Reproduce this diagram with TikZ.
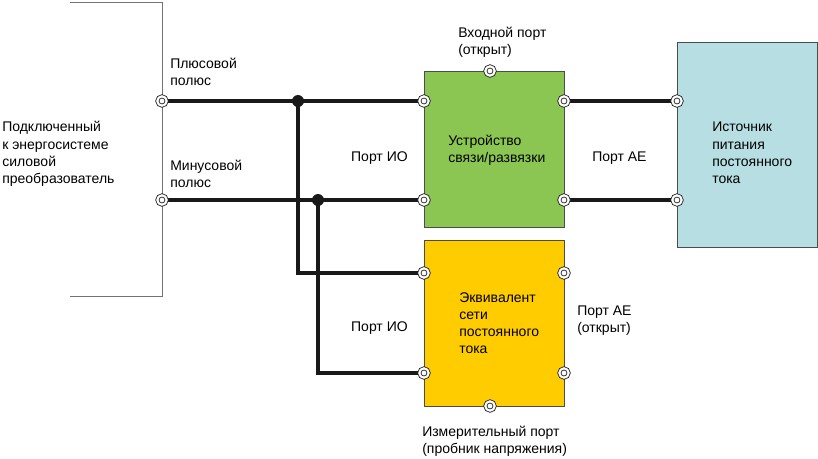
\documentclass[tikz,border=0pt]{standalone}
\usepackage{fontspec}
\setmainfont{Liberation Sans}
\usetikzlibrary{backgrounds}
\definecolor{devgreen}{RGB}{140,198,82}
\definecolor{netyellow}{RGB}{255,204,0}
\definecolor{srcblue}{RGB}{183,223,227}
\begin{document}
\begin{tikzpicture}[
  x=0.75pt, y=-0.75pt,
  box/.style={draw=black!70, line width=0.6pt, minimum width=105pt, inner sep=0pt},
  term/.style={circle, draw=black!85, double=white, double distance=1.6pt, line width=0.65pt, fill=white, minimum size=7pt, inner sep=0pt},
  junc/.style={circle, fill=black!90, minimum size=9pt, inner sep=0pt},
  wire/.style={line width=2.7pt, black!90},
  bracket/.style={line width=0.7pt, black!55},
  lbl/.style={align=left, anchor=west, inner sep=0pt, font=\fontsize{10.5}{12.9}\selectfont}
]
\useasboundingbox (0,0) rectangle (818,458);
% blocks
\node[box, fill=devgreen, minimum height=117pt] (dev) at (494,149) {};
\node[box, fill=netyellow, minimum height=124.5pt] (net) at (494,323) {};
\node[box, fill=srcblue, minimum height=153.75pt] (src) at (747,144.5) {};
% terminals
\node[term] (pp) at (162,101) {};
\node[term] (mp) at (162,200) {};
\node[term] (gi1) at (424,101) {};
\node[term] (gi2) at (424,200) {};
\node[term] (go1) at (564,101) {};
\node[term] (go2) at (564,200) {};
\node[term] (gtop) at (490,71) {};
\node[term] (yi1) at (424,273) {};
\node[term] (yi2) at (424,373) {};
\node[term] (yo1) at (564,273) {};
\node[term] (yo2) at (564,373) {};
\node[term] (ybot) at (490,406) {};
\node[term] (bi1) at (677,101) {};
\node[term] (bi2) at (677,200) {};
\node[junc] (jp) at (298,101) {};
\node[junc] (jm) at (318,200) {};
% wiring
\begin{scope}[on background layer]
  \draw[bracket] (70,2) -- (162,2) -- (162,296) -- (70,296);
  \draw[wire] (pp) -- (gi1);
  \draw[wire] (mp) -- (gi2);
  \draw[wire] (jp.center) |- (yi1);
  \draw[wire] (jm.center) |- (yi2);
  \draw[wire] (go1) -- (bi1);
  \draw[wire] (go2) -- (bi2);
\end{scope}
% texts
\node[lbl] (conv) at (2,154) {Подключенный\\к энергосистеме\\силовой\\преобразователь};
\node[lbl] (plus) at (170,72) {Плюсовой\\полюс};
\node[lbl] (minus) at (170,173.5) {Минусовой\\полюс};
\node[lbl, anchor=east] (io1) at (408,158) {Порт ИО};
\node[lbl, anchor=east] (io2) at (408,328) {Порт ИО};
\node[lbl] (devtxt) at (448,150.5) {Устройство\\связи/развязки};
\node[lbl] (ae1) at (592,158) {Порт AE};
\node[lbl] (ae2) at (577,321) {Порт AE\\(открыт)};
\node[lbl] (inport) at (458,42) {Входной порт\\(открыт)};
\node[lbl] (nettxt) at (459,323) {Эквивалент\\сети\\постоянного\\тока};
\node[lbl] (meas) at (422,441) {Измерительный порт\\(пробник напряжения)};
\node[lbl] (srctxt) at (712,153) {Источник\\питания\\постоянного\\тока};
\end{tikzpicture}
\end{document}
